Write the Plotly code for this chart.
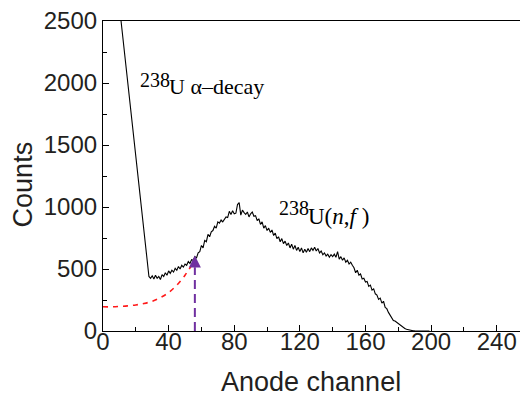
import plotly.graph_objects as go

# alpha-decay tail (clipped at top of axis)
alpha_ch = [11, 28]
alpha_counts = [2500, 445]

# 238U(n,f) fission spectrum, channels 28..200
fis_start = 28
fis_counts = [
    445, 440, 425, 445, 420, 450, 425, 440, 415, 455,   # 28-37
    440, 470, 450, 485, 465, 490, 475, 505, 490, 520,   # 38-47
    500, 530, 515, 540, 530, 560, 545, 575, 570, 600,   # 48-57
    590, 630, 640, 690, 670, 730, 720, 780, 760, 800,   # 58-67
    810, 845, 830, 880, 870, 895, 880, 905, 920, 915,   # 68-77
    965, 940, 970, 945, 950, 1020, 1035, 935, 975, 955, # 78-87
    940, 960, 920, 945, 960, 925, 930, 890, 905, 860,   # 88-97
    880, 830, 850, 810, 830, 795, 815, 770, 790, 745,   # 98-107
    760, 720, 745, 705, 725, 690, 710, 670, 700, 660,   # 108-117
    690, 650, 675, 640, 670, 630, 660, 635, 665, 640,   # 118-127
    670, 650, 675, 645, 665, 630, 645, 615, 630, 605,   # 128-137
    620, 595, 615, 600, 620, 595, 640, 580, 600, 570,   # 138-147
    590, 555, 570, 540, 555, 530, 510, 470, 490, 450,   # 148-157
    460, 420, 425, 395, 400, 360, 370, 330, 340, 300,   # 158-167
    290, 255, 265, 225, 240, 190, 180, 150, 130, 100,   # 168-177
    85, 80, 70, 60, 50, 35, 28, 20, 14, 10,             # 178-187
    6, 4, 2, 1, 0, 0, 0, 0, 0, 0,                       # 188-197
    0, 0, 0,                                            # 198-200
]
fis_ch = list(range(fis_start, fis_start + len(fis_counts)))

# red dashed extrapolation below threshold
extrap_ch = [0, 5, 10, 15, 20, 25, 30, 35, 40, 45, 50, 54]
extrap_counts = [195, 195, 198, 203, 210, 222, 240, 270, 310, 370, 450, 530]

# purple threshold arrow
thr_ch = 56
thr_line = [0, 515]
thr_tip = 608

x_ticks = [0, 40, 80, 120, 160, 200, 240]
y_ticks = [0, 500, 1000, 1500, 2000, 2500]

fig = go.Figure()
fig.add_trace(go.Scatter(x=alpha_ch + fis_ch, y=alpha_counts[:1] + fis_counts,
                         mode="lines", line=dict(color="black", width=1.1),
                         showlegend=False, hoverinfo="skip"))
fig.add_trace(go.Scatter(x=extrap_ch, y=extrap_counts, mode="lines",
                         line=dict(color="#FF1A1A", width=1.6, dash="5px,5px", shape="spline"),
                         showlegend=False, hoverinfo="skip"))
fig.add_trace(go.Scatter(x=[thr_ch, thr_ch], y=thr_line, mode="lines",
                         line=dict(color="#7030A0", width=2, dash="9px,5px"),
                         showlegend=False, hoverinfo="skip"))
fig.add_trace(go.Scatter(x=[thr_ch], y=[thr_tip], mode="markers",
                         marker=dict(symbol="arrow-up", size=12, color="#7030A0",
                                     line=dict(width=0)),
                         showlegend=False, hoverinfo="skip"))

serif = "Liberation Serif, Times New Roman, serif"
ann = [
    dict(x=21.2, y=2028, text="238", size=20),
    dict(x=38.9, y=1972, text="U α–decay", size=22),
    dict(x=106.0, y=992, text="238", size=20),
    dict(x=123.8, y=926, text="U(<i>n</i>,<i>f</i>\u00a0)", size=23),
]
for a in ann:
    fig.add_annotation(x=a["x"], y=a["y"], text=a["text"], xref="x", yref="y",
                       xanchor="left", yanchor="middle", showarrow=False,
                       font=dict(family=serif, size=a["size"], color="black"))

sans = "Liberation Sans, Arial, sans-serif"
title_font = dict(family=sans, size=27, color="#231F20")
fig.add_annotation(x=-0.191, y=0.474, xref="paper", yref="paper", text="Counts",
                   textangle=-90, showarrow=False, xanchor="center", yanchor="middle",
                   font=title_font)
fig.add_annotation(x=0.499, y=-0.165, xref="paper", yref="paper", text="Anode channel",
                   showarrow=False, xanchor="center", yanchor="middle",
                   font=title_font)

axis_common = dict(showline=True, linecolor="black", linewidth=1.2,
                   ticks="inside", ticklen=6, tickwidth=1, tickcolor="black",
                   showgrid=False, zeroline=False,
                   tickfont=dict(family=sans, size=24, color="#231F20"))
fig.update_xaxes(range=[0, 254.2], tickvals=x_ticks, mirror=True, ticklabelstandoff=-11,
                 minor=dict(dtick=20, tick0=0, ticks="inside", ticklen=3.5, tickcolor="black"),
                 **axis_common)
fig.update_yaxes(range=[0, 2500], tickvals=y_ticks,
                 minor=dict(dtick=250, tick0=0, ticks="inside", ticklen=3.5, tickcolor="black"),
                 **axis_common)
fig.update_layout(width=520, height=397, margin=dict(l=103, r=0, t=21, b=66),
                  paper_bgcolor="white", plot_bgcolor="white")
fig.write_html("out.html")
